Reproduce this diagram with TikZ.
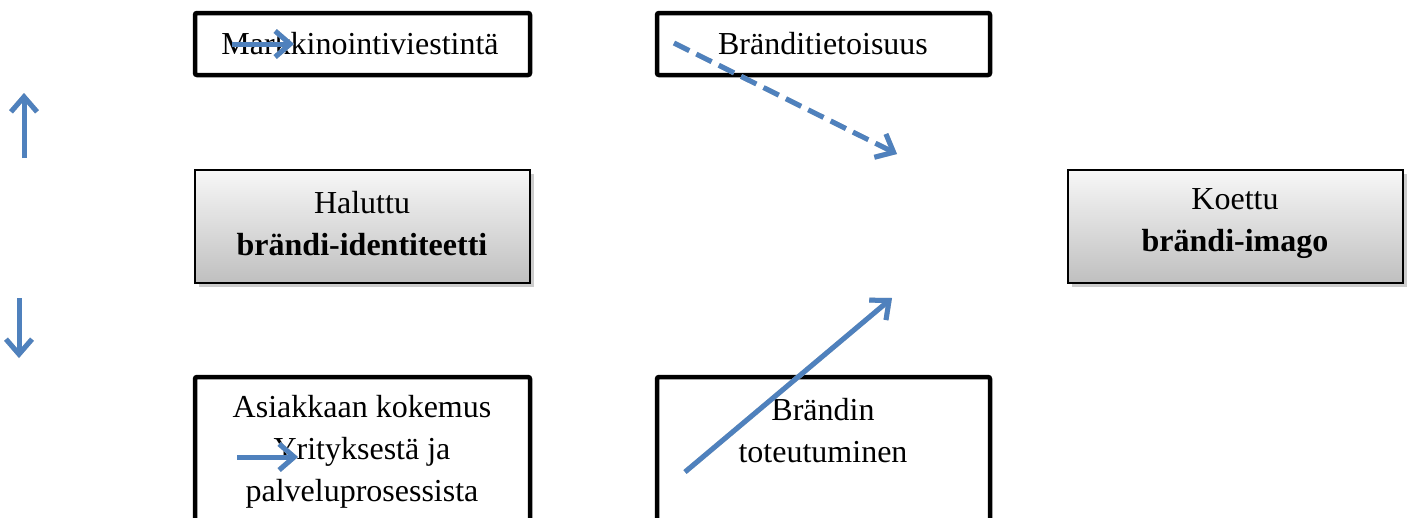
\documentclass[tikz,border=0pt]{standalone}
\usepackage{fontspec}
\setmainfont{Liberation Serif}
\usetikzlibrary{arrows.meta}
\definecolor{arrowblue}{HTML}{4F81BD}
\tikzset{
  plainbox/.style={draw=black, line width=4.5pt, rounded corners=2pt, fill=white},
  gradbox/.style={draw=black, line width=1.8pt, top color=black!3, bottom color=black!25},
  boxtext/.style={font=\fontsize{32}{42}\selectfont, align=center, inner sep=0pt},
  bluearrow/.style={draw=arrowblue, line width=5pt, -{Straight Barb[length=15pt, width=26pt, line width=5pt]}},
  arrowshadow/.style={draw=black!22, line width=5pt, -{Straight Barb[length=15pt, width=26pt, line width=5pt]}},
}
\begin{document}
\begin{tikzpicture}[x=1pt, y=-1pt]
\useasboundingbox (0,0) rectangle (1408,517);
\clip (0,0) rectangle (1408,517);
% boxes
\draw[plainbox] (195,13) rectangle (530,75);
\draw[plainbox] (657,13) rectangle (990,75);
\fill[black!20] (199,174) rectangle (534,287);
\draw[gradbox] (195,170) rectangle (530,283);
\fill[black!20] (1072,174) rectangle (1407,287);
\draw[gradbox] (1068,170) rectangle (1403,283);
\draw[plainbox] (195,377) rectangle (530,540);
\draw[plainbox] (657,377) rectangle (990,540);
% texts
\node[boxtext] (mv) at (360,44) {Markkinointiviestintä};
\node[boxtext] (bt) at (823,44) {Bränditietoisuus};
\node[boxtext] (hb) at (362,224) {Haluttu\\\textbf{brändi-identiteetti}};
\node[boxtext] (kb) at (1235,224) {Koettu\\\textbf{brändi-imago}};
\node[boxtext] (ak) at (362,452) {Asiakkaan kokemus\\Yrityksestä ja\\palveluprosessista};
\node[boxtext] (bto) at (823,431) {Brändin\\toteutuminen};
% arrow coordinates
\coordinate (u1) at (24,158); \coordinate (u2) at (24,93);
\coordinate (d1) at (19,298); \coordinate (d2) at (19,358);
\coordinate (m1) at (232,44); \coordinate (m2) at (294,44);
\coordinate (t1) at (674,43); \coordinate (t2) at (897,154);
\coordinate (a1) at (237,457); \coordinate (a2) at (298,457);
\coordinate (r1) at (685,472); \coordinate (r2) at (892,298);
% shadows
\begin{scope}[shift={(2,3)}]
\draw[arrowshadow] (u1) -- (u2);
\draw[arrowshadow] (d1) -- (d2);
\draw[arrowshadow] (m1) -- (m2);
\draw[arrowshadow, dash pattern=on 17pt off 8pt] (t1) -- (t2);
\draw[arrowshadow] (a1) -- (a2);
\draw[arrowshadow] (r1) -- (r2);
\end{scope}
% arrows
\draw[bluearrow] (u1) -- (u2);
\draw[bluearrow] (d1) -- (d2);
\draw[bluearrow] (m1) -- (m2);
\draw[bluearrow, dash pattern=on 17pt off 8pt] (t1) -- (t2);
\draw[bluearrow] (a1) -- (a2);
\draw[bluearrow] (r1) -- (r2);
\end{tikzpicture}
\end{document}
